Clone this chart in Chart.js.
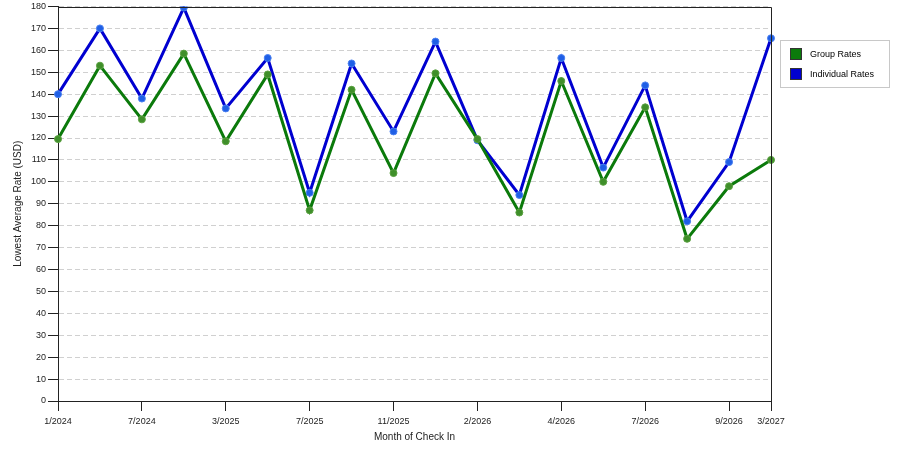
<!DOCTYPE html>
<html>
<head>
<meta charset="utf-8">
<script src="https://cdn.jsdelivr.net/npm/chart.js@4.4.1/dist/chart.umd.min.js"></script>
<style>
  html, body { margin: 0; padding: 0; background: #fff; }
  #wrap { width: 900px; height: 450px; }
</style>
</head>
<body>
<div id="wrap"><canvas id="grafico"></canvas></div>
<script>
// Meses (solo algunos llevan etiqueta en el eje)
const meses = ['1/2024', '', '7/2024', '', '3/2025', '', '7/2025', '', '11/2025', '',
               '2/2026', '', '4/2026', '', '7/2026', '', '9/2026', '3/2027'];
const tarifasGrupo = [119.5, 153, 128.5, 158.5, 118.5, 149, 87, 142, 104, 149.5,
                      119.5, 86, 146, 100, 134, 74, 98, 110];
const tarifasIndividual = [140, 170, 138, 179.5, 133.5, 156.5, 95, 154, 123, 164,
                           119, 94, 156.5, 106.5, 144, 82, 109, 165.5];
const ticksY = [0, 180, 10];

const fuente = 'Liberation Sans, Arial, sans-serif';

// Marco superior/derecho y leyenda con recuadro
const marcoPlugin = {
  id: 'marco',
  afterDraw(chart) {
    const { ctx, chartArea: a } = chart;
    ctx.save();
    ctx.strokeStyle = '#222';
    ctx.lineWidth = 1;
    ctx.beginPath();
    ctx.moveTo(Math.round(a.left) + 0.5, Math.round(a.top) + 0.5);
    ctx.lineTo(Math.round(a.right) + 0.5, Math.round(a.top) + 0.5);
    ctx.lineTo(Math.round(a.right) + 0.5, Math.round(a.bottom) + 0.5);
    ctx.stroke();

    // Leyenda
    const x0 = 780, y0 = 40;
    ctx.strokeStyle = '#c8c8c8';
    ctx.strokeRect(x0 + 0.5, y0 + 0.5, 109, 47);
    ctx.font = '9px ' + fuente;
    ctx.textBaseline = 'middle';
    chart.data.datasets.forEach((ds, i) => {
      const y = y0 + 8 + i * 20;
      ctx.fillStyle = ds.borderColor;
      ctx.fillRect(x0 + 10, y, 12, 12);
      ctx.strokeStyle = '#333';
      ctx.strokeRect(x0 + 10.5, y + 0.5, 11, 11);
      ctx.fillStyle = '#000';
      ctx.fillText(ds.label, x0 + 30, y + 6.5);
    });
    ctx.restore();
  }
};

const ctx = document.getElementById('grafico').getContext('2d');

new Chart(ctx, {
  type: 'line',
  data: {
    labels: meses,
    datasets: [
      {
        label: 'Group Rates',
        data: tarifasGrupo,
        borderColor: '#0b7a0b',
        backgroundColor: '#0b7a0b',
        borderWidth: 3,
        pointRadius: 3.5,
        pointBackgroundColor: '#3f8f2a',
        pointBorderColor: '#5aa040',
        pointBorderWidth: 1,
        tension: 0
      },
      {
        label: 'Individual Rates',
        data: tarifasIndividual,
        borderColor: '#0000d0',
        backgroundColor: '#0000d0',
        borderWidth: 3,
        pointRadius: 3.5,
        pointBackgroundColor: '#1f5fe6',
        pointBorderColor: '#4a80f0',
        pointBorderWidth: 1,
        tension: 0
      }
    ]
  },
  options: {
    responsive: true,
    maintainAspectRatio: false,
    animation: false,
    layout: { padding: { left: 0, top: 0, right: 129, bottom: 0 } },
    plugins: {
      legend: { display: false },
      tooltip: { enabled: false }
    },
    scales: {
      x: {
        offset: false,
        afterFit: s => { s.height = 49; },
        grid: {
          drawOnChartArea: false,
          tickLength: 10,
          tickColor: c => (meses[c.index] ? '#222' : 'rgba(0,0,0,0)'),
          color: c => (meses[c.index] ? '#222' : 'rgba(0,0,0,0)')
        },
        border: { color: '#222', width: 1 },
        ticks: {
          autoSkip: false,
          maxRotation: 0,
          padding: 5,
          color: '#222',
          font: { family: fuente, size: 9 }
        },
        title: {
          display: true,
          text: 'Month of Check In',
          color: '#222',
          font: { family: fuente, size: 10 },
          padding: { top: 2, bottom: 7 }
        }
      },
      y: {
        min: ticksY[0],
        max: ticksY[1],
        afterFit: s => { s.width = 58; },
        grid: {
          color: c => (c.index === 0 ? 'rgba(0,0,0,0)' : '#d0d0d0'),
          tickColor: '#222',
          tickLength: 10,
          lineWidth: 1
        },
        border: { color: '#222', width: 1, dash: [5, 3] },
        ticks: {
          stepSize: ticksY[2],
          padding: 2,
          color: '#222',
          font: { family: fuente, size: 9, lineHeight: 1 }
        },
        title: {
          display: true,
          text: 'Lowest Average Rate (USD)',
          color: '#222',
          font: { family: fuente, size: 10 },
          padding: { top: 12, bottom: 0 }
        }
      }
    }
  },
  plugins: [marcoPlugin]
});
</script>
</body>
</html>
